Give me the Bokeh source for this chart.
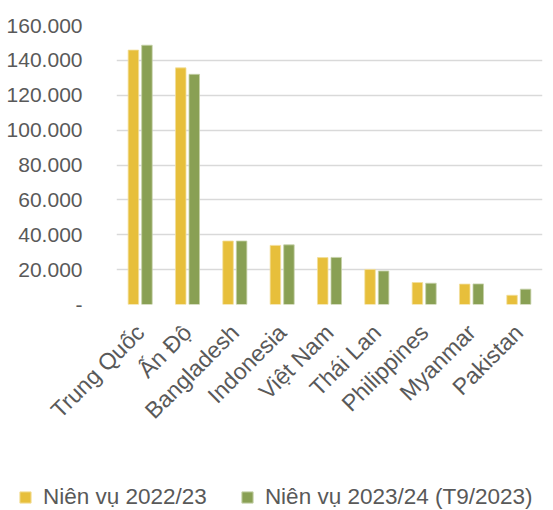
import math
from bokeh.plotting import figure
from bokeh.layouts import column
from bokeh.models import (FactorRange, Range1d, FixedTicker, Legend, LegendItem,
                          ColumnDataSource)
from bokeh.transform import dodge
from bokeh.embed import file_html
from bokeh.resources import INLINE

# ---- data (thousand tonnes) ----
countries = ["Trung Quốc", "Ấn Độ", "Bangladesh", "Indonesia", "Việt Nam",
             "Thái Lan", "Philippines", "Myanmar", "Pakistan"]
season_2022_23 = [145900, 135700, 36400, 33900, 26900, 20100, 12600, 11700, 5300]
season_2023_24 = [148700, 132000, 36400, 34200, 27000, 19200, 12200, 11800, 8800]
series_names = ["Niên vụ 2022/23", "Niên vụ 2023/24 (T9/2023)"]
y_ticks = [0, 20000, 40000, 60000, 80000, 100000, 120000, 140000, 160000]
y_tick_labels = ["-", "20.000", "40.000", "60.000", "80.000", "100.000",
                 "120.000", "140.000", "160.000"]

YELLOW = "#E7BF3B"
GREEN = "#89A054"
TEXT = "#595959"
GRID = "#D9D9D9"

W = 553

source = ColumnDataSource(dict(country=countries, s1=season_2022_23, s2=season_2023_24))

p = figure(width=W, height=480, x_range=FactorRange(*countries),
           y_range=Range1d(0, 160000), output_backend="svg",
           toolbar_location=None, min_border_left=116, min_border_right=11,
           min_border_top=25, min_border_bottom=176)
p.x_range.range_padding = 0

r1 = p.vbar(x=dodge("country", -0.143, range=p.x_range), top="s1", width=0.222,
            source=source, fill_color=YELLOW, line_color="#F3DE9A", line_width=0.8)
r2 = p.vbar(x=dodge("country", 0.143, range=p.x_range), top="s2", width=0.222,
            source=source, fill_color=GREEN, line_color="#C5D0A8", line_width=0.8)

p.outline_line_color = None
p.xgrid.visible = False
p.ygrid.ticker = FixedTicker(ticks=y_ticks)
p.ygrid.grid_line_color = GRID
p.ygrid.grid_line_width = 1.6

p.yaxis.ticker = FixedTicker(ticks=y_ticks)
p.yaxis.major_label_overrides = {t: l for t, l in zip(y_ticks, y_tick_labels)}
p.yaxis.axis_line_color = None
p.yaxis.major_tick_line_color = None
p.yaxis.minor_tick_line_color = None
p.yaxis.major_label_text_font = "Liberation Sans"
p.yaxis.major_label_text_font_size = "21px"
p.yaxis.major_label_text_color = TEXT
p.yaxis.major_label_standoff = 28

p.xaxis.axis_line_color = None
p.xaxis.major_tick_line_color = None
p.xaxis.minor_tick_line_color = None
p.xaxis.major_label_orientation = math.pi / 4
p.xaxis.major_label_text_font = "Liberation Sans"
p.xaxis.major_label_text_font_size = "23px"
p.xaxis.major_label_text_color = TEXT
p.xaxis.major_label_standoff = 18

# ---- legend strip ----
lf = figure(width=W, height=30, x_range=Range1d(0, 1), y_range=Range1d(0, 1),
            output_backend="svg", toolbar_location=None,
            x_axis_type=None, y_axis_type=None,
            min_border_left=0, min_border_right=0, min_border_top=0, min_border_bottom=0)
lf.frame_align = False
lf.outline_line_color = None
lf.xgrid.visible = False
lf.ygrid.visible = False
k1 = lf.vbar(x=[5], top=[1], width=0.1, fill_color=YELLOW, line_color="#F3DE9A")
k2 = lf.vbar(x=[5], top=[1], width=0.1, fill_color=GREEN, line_color="#C5D0A8")

legend = Legend(items=[LegendItem(label=series_names[0], renderers=[k1]),
                       LegendItem(label=series_names[1], renderers=[k2])],
                orientation="horizontal", location=(18, 0),
                glyph_width=14, glyph_height=14, label_standoff=11, spacing=33,
                padding=0, margin=0, border_line_color=None,
                background_fill_alpha=0,
                label_text_font="Liberation Sans", label_text_font_size="22.5px",
                label_text_color=TEXT)
lf.add_layout(legend, "center")

layout = column(p, lf, spacing=0)
open("out.html", "w").write(file_html(layout, INLINE))
